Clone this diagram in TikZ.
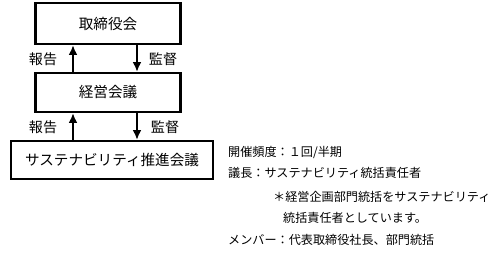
\documentclass[tikz,border=0pt]{standalone}
\usepackage{fontspec}
\setmainfont{Noto Sans CJK JP}
\usepackage{tikz}
\usetikzlibrary{arrows.meta,positioning}

\begin{document}
\begin{tikzpicture}[x=0.2mm,y=-0.2mm,line width=1.3pt,>={Latex[length=5.5pt,width=5pt]}]
    \tikzstyle{body}=[draw=black,fill=white,line width=1.3pt,inner sep=0pt,font=\fontsize{8.3pt}{10pt}\selectfont]
    \tikzstyle{flow}=[->,draw=black,line width=1.2pt]
    \tikzstyle{annot}=[inner sep=0pt,font=\fontsize{8pt}{10pt}\selectfont]
    \tikzstyle{note}=[anchor=west,inner sep=0pt,font=\fontsize{6.9pt}{9pt}\selectfont]

    \useasboundingbox (0,0) rectangle (500,262);

    % Draw the three bodies
    \node[body,minimum width=29mm,minimum height=8.2mm] (board) at (108,23.5) {取締役会};
    \node[body,minimum width=29mm,minimum height=7.8mm] (mgmt) at (108,92.5) {経営会議};
    \node[body,minimum width=40.4mm,minimum height=7.6mm] (sust) at (112,160) {サステナビリティ推進会議};

    % Reporting goes up, supervision goes down
    \draw[flow] (mgmt.north -| 73,0) -- (board.south -| 73,0);
    \draw[flow] (board.south -| 137,0) -- (mgmt.north -| 137,0);
    \draw[flow] (sust.north -| 73,0) -- (mgmt.south -| 73,0);
    \draw[flow] (mgmt.south -| 137,0) -- (sust.north -| 137,0);

    % Annotate the arrows
    \node[annot] (rep-1) at (43,59) {報告};
    \node[annot] (sup-1) at (163,59) {監督};
    \node[annot] (rep-2) at (43,127) {報告};
    \node[annot] (sup-2) at (165,127) {監督};

    % Notes on the meeting
    \node[note] (freq) at (227,152) {開催頻度：１回/半期};
    \node[note] (chair) at (227,173) {議長：サステナビリティ統括責任者};
    \node[note] (rem-1) at (272,197) {＊経営企画部門統括をサステナビリティ};
    \node[note] (rem-2) at (282,218) {統括責任者としています。};
    \node[note] (memb) at (227,240) {メンバー：代表取締役社長、部門統括};
\end{tikzpicture}
\end{document}
